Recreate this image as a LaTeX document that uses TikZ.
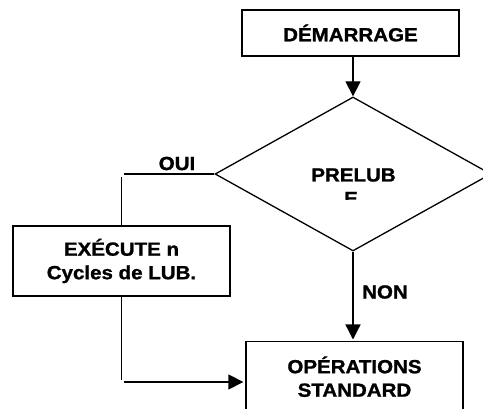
\documentclass[tikz,border=0pt]{standalone}
\usepackage{fontspec}
\usepackage{graphicx}
\setmainfont{Liberation Sans}
% heavy bold face for all labels
\newfontfamily\heavy{Liberation Sans Bold}[FakeBold=1.2]
\usetikzlibrary{shapes.geometric,arrows.meta}
% slightly widened lettering
\newcommand\wide[1]{\scalebox{1.08}[1]{#1}}
\begin{document}
\begin{tikzpicture}[x=1pt,y=-1pt,
  lbl/.style={font=\heavy\fontsize{19}{23.5}\selectfont, inner sep=0pt, align=center},
  box/.style={draw, line width=1.3pt, minimum width=217pt, inner sep=0pt, lbl},
  flow/.style={line width=1.3pt},
  arr/.style={flow, -{Triangle[length=15pt,width=15pt]}},
]
\useasboundingbox (0,0) rectangle (483,409);
\clip (0,0) rectangle (483,409);

% blocks
\node[box, minimum height=46pt] (start) at (350.5,33) {\wide{DÉMARRAGE}};
\node[draw, diamond, line width=1.3pt, minimum width=276pt, minimum height=154pt,
      inner sep=0pt] (d) at (353,174) {};
\node[box, minimum height=70pt] (exec) at (121.5,261)
  {\wide{EXÉCUTE n}\\\wide{Cycles de LUB.}};
\node[box, minimum height=70pt, anchor=north] (ops) at (354.5,341)
  {\wide{OPÉRATIONS}\\\wide{STANDARD}};

% decision text, cut off below the first line
\begin{scope}
  \clip (280,150) rectangle (430,200);
  \node[lbl, anchor=base] (q1) at (353.5,181.5) {\wide{PRELUB}};
  \node[lbl, anchor=base] (q2) at (351,205) {\wide{E}};
\end{scope}

% branch labels
\node[lbl] (oui) at (177,163.5) {\wide{OUI}};
\node[lbl] (non) at (385,292) {\wide{NON}};

% connectors
\coordinate (ouiA) at (123.5,174);
\coordinate (ouiB) at (121.5,177);
\coordinate (bendA) at (121.5,380);
\coordinate (bendB) at (123.5,382);

\draw[arr] (start.south -| d.north) -- (d.north);
\draw[flow] (d.west) -- (ouiA);
\draw[flow] (ouiB) -- (exec.north);
\draw[flow] (exec.south) -- (bendA);
\draw[arr, shorten >=2pt] (bendB) -- (bendB -| ops.west);
\draw[arr, shorten >=1.5pt] (d.south) -- (ops.north -| d.south);
\end{tikzpicture}
\end{document}
